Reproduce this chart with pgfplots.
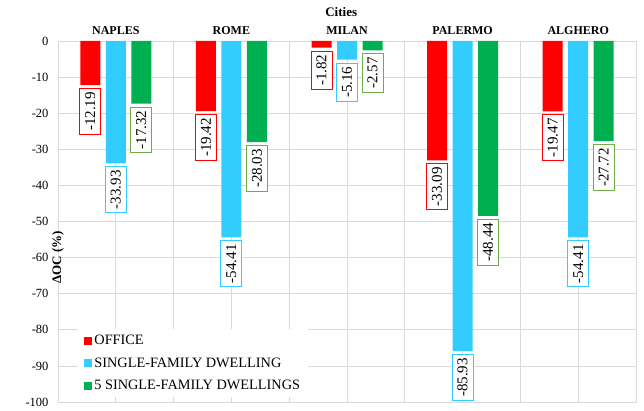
\documentclass[border=0pt]{standalone}
\usepackage{fontspec}
\setmainfont{Liberation Serif}
\usepackage{pgfplots}
\pgfplotsset{compat=1.18}

\definecolor{office}{HTML}{FF0000}
\definecolor{single}{HTML}{33CCFF}
\definecolor{five}{HTML}{00B050}
\definecolor{fiveedge}{HTML}{70AD47}
\definecolor{gridgray}{HTML}{D9D9D9}

\begin{document}
\begin{tikzpicture}
\begin{axis}[
  scale only axis,
  width=578bp, height=361bp,
  xmin=-0.5, xmax=4.5,
  ymin=-100, ymax=0,
  ytick={-100,-90,...,0},
  xtick={0,1,2,3,4},
  xticklabels={NAPLES,ROME,MILAN,PALERMO,ALGHERO},
  minor xtick={-0.5,0.5,1.5,2.5,3.5,4.5},
  xticklabel pos=upper,
  major tick length=0pt, minor tick length=0pt,
  xmajorgrids, ymajorgrids, xminorgrids,
  grid style={gridgray, line width=0.8bp},
  minor grid style={gridgray, line width=0.8bp},
  axis line style={gridgray, line width=0.8bp},
  /pgf/number format/assume math mode=true,
  yticklabel style={font=\fontsize{12.5bp}{14bp}\selectfont, xshift=-6bp},
  xticklabel style={font=\fontsize{12bp}{14bp}\selectfont\bfseries, yshift=3bp},
  xlabel={Cities},
  every axis x label/.style={at={(axis description cs:0.49,1)}, anchor=center,
    yshift=29bp, font=\fontsize{13bp}{15bp}\selectfont\bfseries},
  ylabel={ΔOC (\%)},
  every axis y label/.style={at={(axis description cs:0,0.5)}, rotate=90,
    anchor=center, xshift=-36bp, font=\fontsize{13bp}{15bp}\selectfont\bfseries},
  ybar, bar width=20bp,
  nodes near coords={\pgfmathprintnumber[fixed,fixed zerofill,precision=2]{\pgfplotspointmeta}},
  every node near coord/.append style={
    yshift=-3bp, rotate=90, anchor=east, fill=white, line width=1bp,
    font=\fontsize{15bp}{17bp}\selectfont, text=black,
    inner xsep=3.5bp, inner ysep=0pt, minimum height=21bp},
  legend style={at={(rel axis cs:0.035,0.202)}, anchor=north west,
    draw=none, fill=white, font=\fontsize{14.3bp}{16bp}\selectfont,
    inner xsep=6bp, inner ysep=4bp, row sep=7.5bp},
  legend cell align=left,
  legend image code/.code={\fill[#1, draw=none] (0bp,-4bp) rectangle (8bp,4bp);},
]
\addplot[fill=office, draw=none, bar shift=-25.5bp,
  every node near coord/.append style={draw=office}]
  coordinates {(0,-12.19) (1,-19.42) (2,-1.82) (3,-33.09) (4,-19.47)};
\addplot[fill=single, draw=none, bar shift=0bp,
  every node near coord/.append style={draw=single}]
  coordinates {(0,-33.93) (1,-54.41) (2,-5.16) (3,-85.93) (4,-54.41)};
\addplot[fill=five, draw=none, bar shift=25.5bp,
  every node near coord/.append style={draw=fiveedge}]
  coordinates {(0,-17.32) (1,-28.03) (2,-2.57) (3,-48.44) (4,-27.72)};
\legend{OFFICE, SINGLE-FAMILY DWELLING, 5 SINGLE-FAMILY DWELLINGS}
\end{axis}
\path ([xshift=-58bp,yshift=-8bp]current axis.south west)
  rectangle ([xshift=8bp,yshift=41bp]current axis.north east);
\end{tikzpicture}
\end{document}
